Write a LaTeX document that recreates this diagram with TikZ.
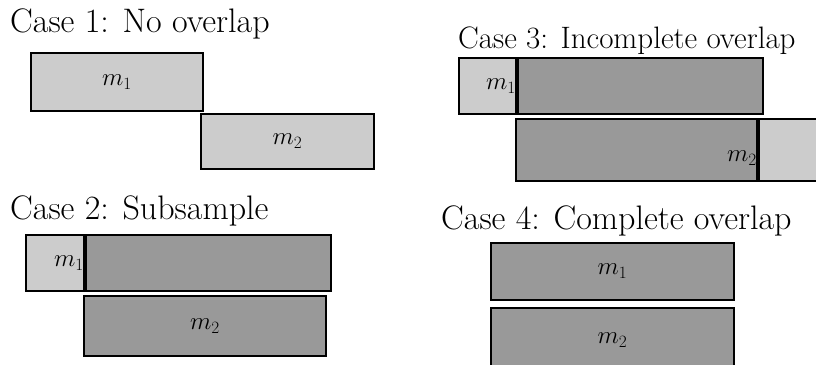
\documentclass[tikz,border=0pt]{standalone}
\usepackage{amsmath}
\usetikzlibrary{positioning}

\definecolor{lightfill}{gray}{0.80}
\definecolor{darkfill}{gray}{0.60}

\begin{document}
\begin{tikzpicture}[%
    x=1pt, y=-1pt,
    title/.style={anchor=base west, inner sep=0pt, font=\fontsize{34}{40}\selectfont},
    box/.style={draw, line width=2pt, inner sep=0pt, anchor=north west},
    lightbox/.style={box, fill=lightfill},
    darkbox/.style={box, fill=darkfill},
    lbl/.style={inner sep=1pt, font=\fontsize{26}{30}\selectfont}
  ]
  \useasboundingbox (0,0) rectangle (816,364);

  % case 1
  \node[title] (t1) at (10,32) {Case 1: No overlap};
  \node[lightbox, minimum width=172pt, minimum height=58pt] (a1) at (30,52) {};
  \node[lightbox, minimum width=173pt, minimum height=55pt] (a2) at (200,113) {};
  \node[lbl] (la1) at (a1.center) {$m_1$};
  \node[lbl] (la2) at (a2.center) {$m_2$};

  % case 2
  \node[title] (t2) at (10,219) {Case 2: Subsample};
  \node[lightbox, minimum width=58pt, minimum height=56pt] (b1) at (25,234) {};
  \node[darkbox, minimum width=245pt, minimum height=56pt] (b1d) at (b1.north east) {};
  \node[darkbox, minimum width=242pt, minimum height=60pt] (b2) at (83,295) {};
  \node[lbl, anchor=east] (lb1) at (b1.east) {$m_1$};
  \node[lbl] (lb2) at (b2.center) {$m_2$};

  % case 3
  \node[title, font=\fontsize{31}{36}\selectfont] (t3) at (458,48) {Case 3: Incomplete overlap};
  \node[lightbox, minimum width=57pt, minimum height=56pt] (c1) at (458,57) {};
  \node[darkbox, minimum width=245pt, minimum height=56pt] (c1d) at (c1.north east) {};
  \node[darkbox, minimum width=241pt, minimum height=62pt] (c2) at (515,118) {};
  \node[lightbox, minimum width=70pt, minimum height=62pt] (c2l) at (c2.north east) {};
  \node[lbl, anchor=east] (lc1) at (c1.east) {$m_1$};
  \node[lbl, anchor=east] (lc2) at ([yshift=-8pt]c2.east) {$m_2$};

  % case 4
  \node[title] (t4) at (441,229) {Case 4: Complete overlap};
  \node[darkbox, minimum width=243pt, minimum height=57pt] (d1) at (490,242) {};
  \node[darkbox, minimum width=243pt, minimum height=60pt] (d2) at (490,307) {};
  \node[lbl] (ld1) at (d1.center) {$m_1$};
  \node[lbl] (ld2) at ([yshift=-2pt]d2.center) {$m_2$};
\end{tikzpicture}
\end{document}
